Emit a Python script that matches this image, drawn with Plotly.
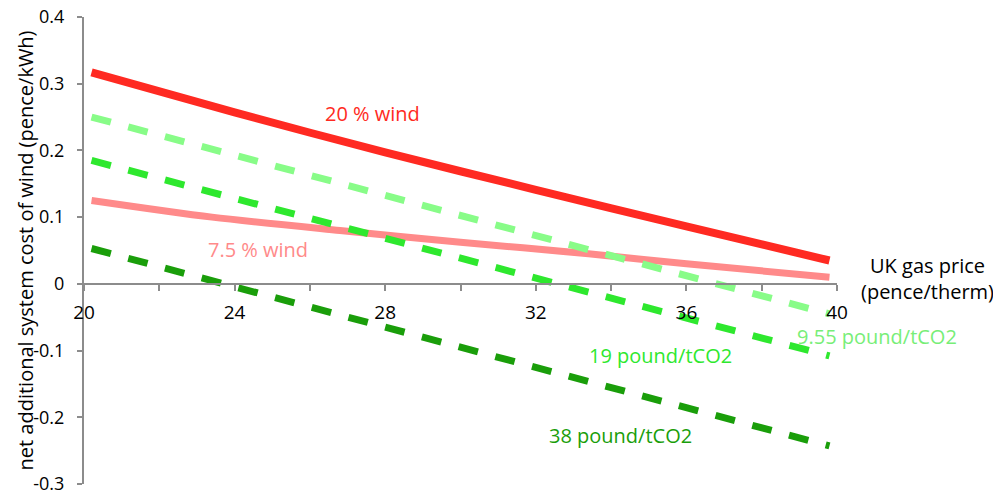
import plotly.graph_objects as go

# ---- data ----
gas_price_red = [20.2, 24, 28, 32, 36, 39.8]
wind_20 = [0.317, 0.257, 0.197, 0.141, 0.086, 0.035]

gas_price_pink = [20.2, 23.4, 26.8, 30, 33.4, 36, 39.8]
wind_7_5 = [0.125, 0.100, 0.080, 0.0625, 0.045, 0.030, 0.010]

gas_price_co2 = [20.2, 39.8]
co2_9_55 = [0.250, -0.045]
co2_19 = [0.185, -0.108]
co2_38 = [0.053, -0.243]

x_tick_vals = [20, 22, 24, 26, 28, 30, 32, 34, 36, 38, 40]
x_tick_text = ["20", "", "24", "", "28", "", "32", "", "36", "", "40"]
y_tick_vals = [-0.3, -0.2, -0.1, 0, 0.1, 0.2, 0.3, 0.4]
y_tick_text = ["-0.3", "-0.2", "-0.1", "0", "0.1", "0.2", "0.3", "0.4"]

RED = "#ff2a22"
PINK = "#ff8a8a"
LGREEN = "#88fc88"
MGREEN = "#2ee82e"
DGREEN = "#1a9e0a"
AXIS = "#8c8c8c"
FONT = "Open Sans"

X_RANGE = [20, 40]
Y_RANGE = [-0.3, 0.4]

fig = go.Figure()
fig.add_trace(go.Scatter(x=gas_price_red, y=wind_20, mode="lines",
                         line=dict(color=RED, width=8, shape="spline", smoothing=0.8),
                         showlegend=False))
fig.add_trace(go.Scatter(x=gas_price_pink, y=wind_7_5, mode="lines",
                         line=dict(color=PINK, width=7, shape="spline", smoothing=0.8),
                         showlegend=False))
fig.add_trace(go.Scatter(x=gas_price_co2, y=co2_9_55, mode="lines",
                         line=dict(color=LGREEN, width=7, dash="20px,18px"), showlegend=False))
fig.add_trace(go.Scatter(x=gas_price_co2, y=co2_19, mode="lines",
                         line=dict(color=MGREEN, width=7, dash="20px,18px"), showlegend=False))
fig.add_trace(go.Scatter(x=gas_price_co2, y=co2_38, mode="lines",
                         line=dict(color=DGREEN, width=7, dash="20px,18px"), showlegend=False))

# page body has an 8px default margin -> shrink figure by that amount
fig.update_layout(
    width=993, height=484,
    margin=dict(l=76, r=164, t=9, b=8, autoexpand=False),
    paper_bgcolor="white", plot_bgcolor="white",
    font=dict(family=FONT, size=18, color="black"),
    xaxis=dict(range=X_RANGE, showgrid=False, zeroline=False, automargin=False,
               showline=True, linecolor=AXIS, linewidth=2,
               ticks="outside", ticklen=6, tickwidth=2, tickcolor=AXIS,
               tickvals=x_tick_vals, ticktext=x_tick_text,
               anchor="free", position=(0 - Y_RANGE[0]) / (Y_RANGE[1] - Y_RANGE[0]),
               ticklabelstandoff=5, ticklabeloverflow="allow", tickfont=dict(size=19)),
    yaxis=dict(range=Y_RANGE, showgrid=False, zeroline=False, automargin=False,
               showline=True, linecolor=AXIS, linewidth=2,
               ticks="outside", ticklen=5, tickwidth=2, tickcolor=AXIS,
               tickvals=y_tick_vals, ticktext=y_tick_text,
               ticklabelstandoff=9, ticklabeloverflow="allow", tickfont=dict(size=18)),
)


def px(x):
    return (x - X_RANGE[0]) / (X_RANGE[1] - X_RANGE[0])


def py(y):
    return (y - Y_RANGE[0]) / (Y_RANGE[1] - Y_RANGE[0])


annots = [
    ("20 % wind", 27.67, 0.2555, RED),
    ("7.5 % wind", 24.62, 0.0515, PINK),
    ("9.55 pound/tCO2", 41.05, -0.079, "#77ee77"),
    ("19 pound/tCO2", 35.3, -0.1075, MGREEN),
    ("38 pound/tCO2", 34.26, -0.2275, DGREEN),
    ("UK gas price<br>(pence/therm)", 42.4, 0.008, "black"),
]
for text, x, y, c in annots:
    fig.add_annotation(text=text, x=px(x), y=py(y), xref="paper", yref="paper",
                       xanchor="center", yanchor="middle", borderpad=0,
                       showarrow=False, font=dict(family=FONT, size=20, color=c))

# y-axis title as rotated paper annotation
fig.add_annotation(text="net additional system cost of wind (pence/kWh)",
                   x=-59 / 753, y=0.5, xref="paper", yref="paper", textangle=-90,
                   xanchor="center", yanchor="middle",
                   showarrow=False, font=dict(family=FONT, size=20, color="black"))

fig.write_html("out.html")
